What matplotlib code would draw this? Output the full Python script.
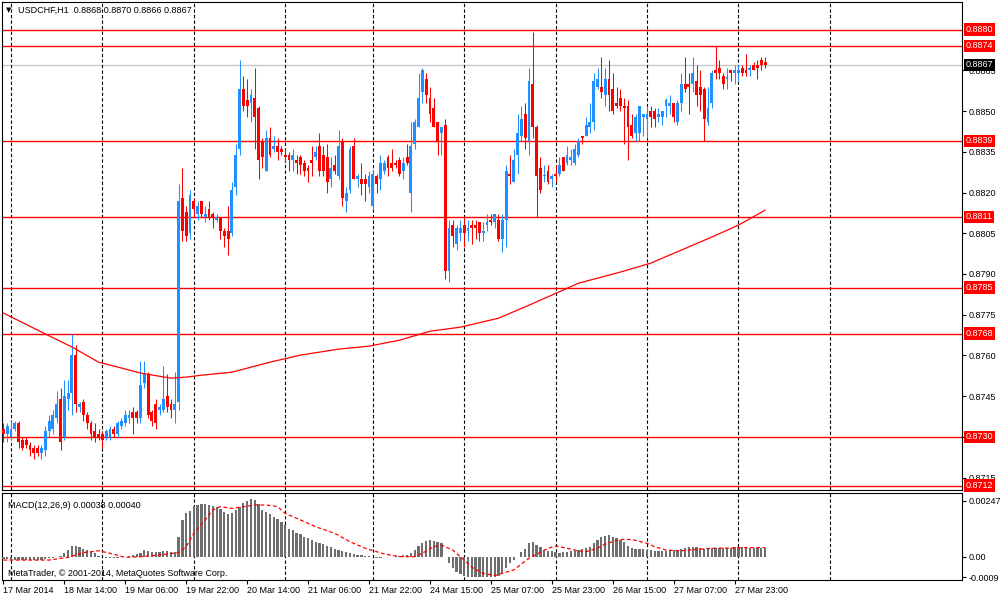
import matplotlib
matplotlib.use("Agg")
import matplotlib.pyplot as plt
import matplotlib.transforms as mtransforms

plt.rcParams['font.family'] = ['Liberation Sans', 'DejaVu Sans']

# ---- price data (H1 bars, USDCHF) ----
opens = [
    .8733, .8731, .8730, .8733, .8735, .8729, .8729, .8727, .8726, .8726,
    .8724, .8725, .8732, .8733, .8737, .8744, .8730, .8744, .8746, .8760,
    .8741, .8743, .8738, .8735, .8732, .8731, .8731, .8730, .8730, .8733,
    .8731, .8734, .8735, .8737, .8739, .8739, .8737, .8750, .8753, .8739,
    .8742, .8740, .8740, .8745, .8742, .8740, .8743, .8818, .8813, .8805,
    .8817, .8812, .8817, .8811, .8814, .8812, .8810, .8811, .8806, .8806,
    .8805, .8822, .8836, .8858, .8854, .8853, .8855, .8851, .8839, .8828,
    .8840, .8836, .8837, .8836, .8834, .8834, .8832, .8832, .8833, .8831,
    .8829, .8832, .8833, .8837, .8834, .8833, .8825, .8830, .8826, .8839,
    .8817, .8821, .8837, .8825, .8825, .8825, .8822, .8815, .8826, .8825,
    .8828, .8833, .8831, .8831, .8832, .8828, .8833, .8820, .8838, .8844,
    .8857, .8862, .8855, .8851, .8846, .8842, .8845, .8791, .8808, .8801,
    .8805, .8808, .8806, .8808, .8808, .8809, .8805, .8808, .8810, .8809,
    .8810, .8803, .8810, .8827, .8824, .8834, .8841, .8849, .8839, .8860,
    .8844, .8829, .8826, .8828, .8825, .8827, .8827, .8833, .8831, .8832,
    .8831, .8834, .8841, .8841, .8844, .8846, .8859, .8859, .8856, .8862,
    .8858, .8853, .8855, .8852, .8852, .8845, .8842, .8842, .8848, .8847,
    .8850, .8850, .8848, .8848, .8852, .8852, .8853, .8846, .8853, .8860,
    .8860, .8860, .8861, .8859, .8858, .8846, .8853, .8865, .8866, .8863,
    .8862, .8865, .8864, .8864, .8866, .8865, .8865, .8867, .8867, .8869,
    .8868,
]
highs = [
    .8735, .8735, .8736, .8736, .8736, .8730, .8730, .8728, .8727, .8727,
    .8727, .8734, .8738, .8740, .8747, .8748, .8751, .8751, .8768, .8764,
    .8743, .8744, .8739, .8736, .8735, .8733, .8732, .8733, .8734, .8734,
    .8736, .8737, .8740, .8740, .8741, .8740, .8758, .8758, .8754, .8740,
    .8744, .8742, .8756, .8753, .8744, .8754, .8823, .8829, .8815, .8821,
    .8818, .8817, .8817, .8815, .8817, .8813, .8812, .8811, .8807, .8815,
    .8824, .8838, .8869, .8863, .8862, .8858, .8866, .8852, .8840, .8843,
    .8844, .8841, .8840, .8837, .8836, .8835, .8836, .8834, .8834, .8832,
    .8830, .8837, .8837, .8842, .8837, .8838, .8833, .8834, .8843, .8840,
    .8822, .8837, .8840, .8827, .8831, .8827, .8828, .8828, .8827, .8834,
    .8832, .8834, .8836, .8832, .8833, .8833, .8838, .8846, .8847, .8864,
    .8866, .8864, .8859, .8855, .8846, .8844, .8847, .8810, .8810, .8808,
    .8810, .8811, .8810, .8810, .8810, .8809, .8809, .8812, .8812, .8812,
    .8812, .8812, .8830, .8834, .8836, .8849, .8852, .8853, .8866, .8879,
    .8845, .8833, .8830, .8830, .8827, .8830, .8833, .8833, .8837, .8836,
    .8838, .8840, .8841, .8848, .8853, .8864, .8866, .8870, .8866, .8869,
    .8864, .8859, .8858, .8855, .8854, .8849, .8849, .8852, .8849, .8852,
    .8852, .8851, .8851, .8850, .8855, .8856, .8853, .8854, .8864, .8870,
    .8864, .8870, .8867, .8865, .8859, .8859, .8865, .8874, .8869, .8864,
    .8866, .8865, .8867, .8867, .8867, .8871, .8867, .8868, .8869, .8870,
    .8870,
]
lows = [
    .8728, .8728, .8729, .8732, .8726, .8725, .8726, .8723, .8722, .8723,
    .8722, .8723, .8730, .8731, .8735, .8725, .8729, .8740, .8738, .8739,
    .8739, .8736, .8733, .8729, .8728, .8729, .8726, .8729, .8729, .8730,
    .8730, .8733, .8734, .8735, .8731, .8735, .8735, .8748, .8737, .8734,
    .8733, .8738, .8739, .8739, .8737, .8735, .8740, .8802, .8802, .8803,
    .8811, .8810, .8811, .8809, .8810, .8807, .8809, .8803, .8800, .8797,
    .8804, .8819, .8834, .8850, .8848, .8846, .8836, .8825, .8829, .8828,
    .8833, .8835, .8832, .8834, .8831, .8828, .8828, .8827, .8827, .8826,
    .8824, .8826, .8832, .8826, .8826, .8820, .8822, .8827, .8825, .8815,
    .8813, .8820, .8825, .8822, .8819, .8817, .8820, .8814, .8820, .8821,
    .8827, .8826, .8828, .8829, .8826, .8825, .8830, .8813, .8836, .8844,
    .8853, .8853, .8846, .8844, .8834, .8834, .8788, .8787, .8800, .8799,
    .8802, .8800, .8802, .8801, .8803, .8802, .8802, .8806, .8808, .8807,
    .8802, .8798, .8800, .8823, .8824, .8827, .8839, .8836, .8834, .8840,
    .8811, .8820, .8824, .8823, .8822, .8824, .8826, .8828, .8830, .8830,
    .8830, .8833, .8838, .8841, .8842, .8843, .8858, .8855, .8852, .8850,
    .8849, .8851, .8850, .8838, .8832, .8840, .8839, .8839, .8841, .8840,
    .8844, .8844, .8846, .8845, .8848, .8849, .8846, .8845, .8850, .8857,
    .8849, .8857, .8852, .8850, .8839, .8845, .8851, .8862, .8862, .8858,
    .8858, .8861, .8860, .8861, .8863, .8863, .8863, .8865, .8862, .8865,
    .8866,
]
closes = [
    .8731, .8734, .8733, .8735, .8728, .8726, .8727, .8725, .8724, .8724,
    .8726, .8732, .8736, .8738, .8742, .8728, .8745, .8746, .8760, .8742,
    .8742, .8738, .8735, .8731, .8730, .8730, .8729, .8732, .8733, .8731,
    .8735, .8736, .8738, .8738, .8737, .8737, .8749, .8753, .8738, .8736,
    .8735, .8741, .8744, .8741, .8740, .8742, .8817, .8806, .8804, .8819,
    .8814, .8815, .8812, .8812, .8811, .8811, .8811, .8806, .8804, .8803,
    .8821, .8834, .8858, .8852, .8852, .8856, .8848, .8832, .8833, .8840,
    .8834, .8837, .8835, .8835, .8833, .8832, .8834, .8831, .8830, .8828,
    .8828, .8831, .8835, .8828, .8828, .8824, .8829, .8828, .8837, .8818,
    .8820, .8836, .8825, .8826, .8823, .8823, .8826, .8827, .8823, .8831,
    .8831, .8829, .8829, .8830, .8827, .8831, .8831, .8837, .8846, .8855,
    .8865, .8856, .8849, .8844, .8839, .8844, .8791, .8807, .8804, .8807,
    .8807, .8805, .8807, .8807, .8807, .8805, .8806, .8809, .8809, .8812,
    .8803, .8810, .8828, .8826, .8832, .8842, .8847, .8840, .8861, .8844,
    .8826, .8821, .8826, .8824, .8826, .8826, .8830, .8828, .8834, .8833,
    .8836, .8839, .8840, .8845, .8846, .8861, .8862, .8857, .8862, .8856,
    .8850, .8852, .8852, .8851, .8844, .8841, .8848, .8852, .8849, .8849,
    .8848, .8847, .8849, .8850, .8854, .8853, .8848, .8853, .8860, .8858,
    .8859, .8864, .8856, .8856, .8847, .8851, .8864, .8864, .8864, .8860,
    .8862, .8864, .8865, .8865, .8864, .8864, .8866, .8865, .8866, .8867,
    .8867,
]

# moving average (read at sample bars)
ma_bars = [0, 10, 18, 25, 30, 36, 44, 48, 52, 60, 70, 78, 88, 96, 104, 112,
           120, 130, 138, 144, 151, 162, 170, 178, 186, 193, 200]
ma_vals = [.87756, .87686, .87631, .87575, .87557, .87535, .87516, .87520,
           .87527, .87538, .87575, .87601, .87623, .87634, .87656, .87689,
           .87704, .87737, .87785, .87822, .87866, .87907, .87940, .87988,
           .88036, .88080, .88135]

# MACD histogram (x 1e-4)
macd_hist = [
    -1.2, -1.2, -1.3, -1.3, -1.5, -1.5, -1.5, -1.6, -1.6, -1.6,
    -1.5, -1.2, -0.8, -0.4, 0.0, 0.5, 1.5, 3.0, 4.5, 4.7,
    4.4, 3.5, 2.9, 2.2, 1.5, 0.3, -0.3, -0.6, -0.6, -0.8,
    -0.5, -0.3, 0.0, 0.3, 0.6, 1.2, 1.5, 2.9, 2.6, 2.2,
    2.2, 2.2, 2.5, 2.6, 2.2, 2.2, 8.8, 16.2, 19.1, 20.3,
    22.4, 22.8, 23.2, 23.2, 22.8, 22.4, 22.1, 20.9, 19.9, 18.7,
    19.4, 20.6, 21.8, 23.5, 24.7, 25.3, 25.0, 23.2, 20.6, 19.9,
    18.7, 17.6, 16.6, 15.4, 14.0, 12.2, 11.8, 10.6, 9.9, 8.8,
    8.1, 7.4, 6.6, 6.2, 5.4, 4.9, 4.1, 3.4, 2.9, 2.6,
    1.9, 1.5, 1.2, 0.7, 0.6, 0.3, 0.1, -0.3, -0.6, -0.4,
    -0.3, -0.3, -0.1, 0.1, 0.1, 0.6, 0.7, 1.8, 2.9, 4.7,
    6.2, 7.1, 7.4, 7.1, 6.6, 5.9, -0.2, -2.9, -5.1, -6.6,
    -7.8, -8.5, -8.8, -8.8, -8.8, -8.8, -8.8, -8.8, -8.8, -8.8,
    -8.5, -7.4, -5.1, -2.9, -1.5, 0.0, 2.2, 3.2, 5.9, 6.6,
    5.1, 4.4, 2.9, 2.6, 2.5, 2.2, 1.8, 1.9, 2.1, 2.4,
    2.6, 2.9, 3.2, 3.7, 4.4, 5.9, 7.4, 8.5, 9.1, 9.6,
    8.5, 8.1, 7.4, 6.6, 4.7, 4.0, 3.5, 3.4, 3.2, 2.9,
    2.9, 2.6, 2.6, 2.6, 2.5, 2.6, 2.9, 2.9, 3.2, 3.7,
    4.1, 4.4, 4.1, 3.7, 3.4, 3.5, 3.7, 4.0, 4.0, 4.0,
    4.0, 4.0, 4.4, 4.4, 4.1, 4.0, 4.0, 4.0, 4.0, 4.0,
    3.8,
]
sig_bars = [0, 12, 17, 21, 25, 28, 32, 36, 41, 46, 48, 50, 53, 55, 57, 60, 62,
            66, 69, 72, 74, 78, 82, 87, 91, 95, 100, 104, 108, 110, 113, 115,
            118, 121, 123, 126, 129, 134, 138, 143, 145, 148, 151, 153, 156,
            158, 162, 165, 169, 171, 174, 178, 182, 186, 191, 195, 200]
sig_vals = [-1.5, -1.5, -0.3, 1.8, 2.6, 1.5, -0.3, 0.0, 0.7, 1.8, 4.4, 10.3,
            16.2, 20.6, 22.1, 21.3, 21.8, 22.8, 22.8, 22.1, 19.1, 16.2, 13.2,
            10.3, 6.6, 3.7, 1.2, 0.0, 0.0, 1.5, 4.4, 5.1, 2.9, -1.5, -4.7,
            -7.4, -8.3, -5.9, -0.7, 3.7, 4.7, 3.7, 2.5, 2.2, 3.7, 5.6, 7.6,
            7.6, 5.9, 4.4, 2.9, 2.6, 3.2, 3.7, 3.8, 4.0, 4.0]

levels = [0.8880, 0.8874, 0.8839, 0.8811, 0.8785, 0.8768, 0.8730, 0.8712]
last_price = 0.8867
price_ticks = [0.8715, 0.8730, 0.8745, 0.8760, 0.8775, 0.8790, 0.8805,
               0.8820, 0.8835, 0.8850, 0.8865]
# the 0.8730 tick label sits under the 0.8730 level box, so leave it blank
price_tick_labels = ['' if p == 0.8730 else '%.4f' % p for p in price_ticks]
date_bars = list(range(0, 193, 16))
date_labels = ["17 Mar 2014", "18 Mar 14:00", "19 Mar 06:00", "19 Mar 22:00",
               "20 Mar 14:00", "21 Mar 06:00", "21 Mar 22:00", "24 Mar 15:00",
               "25 Mar 07:00", "25 Mar 23:00", "26 Mar 15:00", "27 Mar 07:00",
               "27 Mar 23:00"]
day_bars = [2, 26, 50, 74, 97, 121, 145, 169, 193, 217]

BLUE = '#1E90FF'
RED = '#FF0000'
FS = 6.5

fig = plt.figure(figsize=(10, 5.98), dpi=100)
ax1 = fig.add_axes([0.002, 0.1806, 0.960, 0.816])
ax2 = fig.add_axes([0.002, 0.0301, 0.960, 0.1455])

xmin, xmax = -0.36, 251.7

# candles
for i in range(len(closes)):
    o, h, l, c = opens[i], highs[i], lows[i], closes[i]
    col = BLUE if c >= o else RED
    ax1.vlines(i, l, h, color=col, linewidth=0.75, zorder=3)
    body = max(abs(c - o), 0.00004)
    ax1.bar(i, body, bottom=min(o, c), width=0.75, color=col,
            linewidth=0, zorder=4)

ax1.plot(ma_bars, ma_vals, color=RED, linewidth=0.9, zorder=5)

for lv in levels:
    ax1.axhline(lv, color=RED, linewidth=1.0, zorder=2)
ax1.axhline(last_price, color='#C8C8C8', linewidth=1.0, zorder=1)

for d in day_bars:
    ax1.axvline(d, color='black', linewidth=0.8, linestyle=(0, (3, 2)), zorder=1)
    ax2.axvline(d, color='black', linewidth=0.8, linestyle=(0, (3, 2)), zorder=1)

ax1.set_xlim(xmin, xmax)
ax1.set_ylim(0.87104, 0.88902)
ax1.set_xticks([])
ax1.yaxis.tick_right()
ax1.set_yticks(price_ticks)
ax1.set_yticklabels(price_tick_labels)
ax1.tick_params(axis='y', labelsize=FS, length=3, width=0.8, pad=1.5)

trans = mtransforms.blended_transform_factory(ax1.transAxes, ax1.transData)
for lv in levels:
    ax1.text(1.0035, lv, '%.4f' % lv, transform=trans, fontsize=FS,
             color='white', va='center', ha='left', clip_on=False, zorder=10,
             bbox=dict(boxstyle='square,pad=0.2', facecolor=RED, edgecolor='none'))
ax1.text(1.0035, last_price, '%.4f' % last_price, transform=trans, fontsize=FS,
         color='white', va='center', ha='left', clip_on=False, zorder=10,
         bbox=dict(boxstyle='square,pad=0.2', facecolor='black', edgecolor='none'))

# MACD panel
ax2.bar(range(len(macd_hist)), [v * 1e-4 for v in macd_hist], width=0.6,
        color='#6E6E6E', linewidth=0, zorder=3)
ax2.plot(sig_bars, [v * 1e-4 for v in sig_vals], color=RED, linewidth=0.9,
         linestyle=(0, (3, 2)), zorder=4)
ax2.set_xlim(xmin, xmax)
ax2.set_ylim(-0.00103, 0.00281)
ax2.yaxis.tick_right()
ax2.set_yticks([0.00247, 0.0, -0.0009])
ax2.set_yticklabels(['0.00247', '0.00', '-0.0009'])
ax2.tick_params(axis='y', labelsize=FS, length=3, width=0.8, pad=1.5)
ax2.set_xticks(date_bars)
ax2.set_xticklabels(date_labels)
ax2.tick_params(axis='x', labelsize=FS, length=3, width=0.8, pad=1)
for lab in ax2.get_xticklabels():
    lab.set_horizontalalignment('left')

for ax in (ax1, ax2):
    for s in ax.spines.values():
        s.set_linewidth(0.8)
        s.set_color('black')

ax2.text(0.006, 0.86, 'MACD(12,26,9) 0.00038 0.00040', transform=ax2.transAxes,
         fontsize=FS, va='center', ha='left', zorder=10)
ax2.text(0.006, 0.07, 'MetaTrader, \u00a9 2001-2014, MetaQuotes Software Corp.',
         transform=ax2.transAxes, fontsize=FS, va='center', ha='left', zorder=10)

fig.text(0.006, 1 - 10 / 598, '\u25bc', fontsize=5, va='center', ha='left',
         family='DejaVu Sans')
fig.text(0.018, 1 - 10 / 598, 'USDCHF,H1  0.8868 0.8870 0.8866 0.8867',
         fontsize=FS, va='center', ha='left')

fig.savefig('out.png', dpi=100)
plt.close(fig)
